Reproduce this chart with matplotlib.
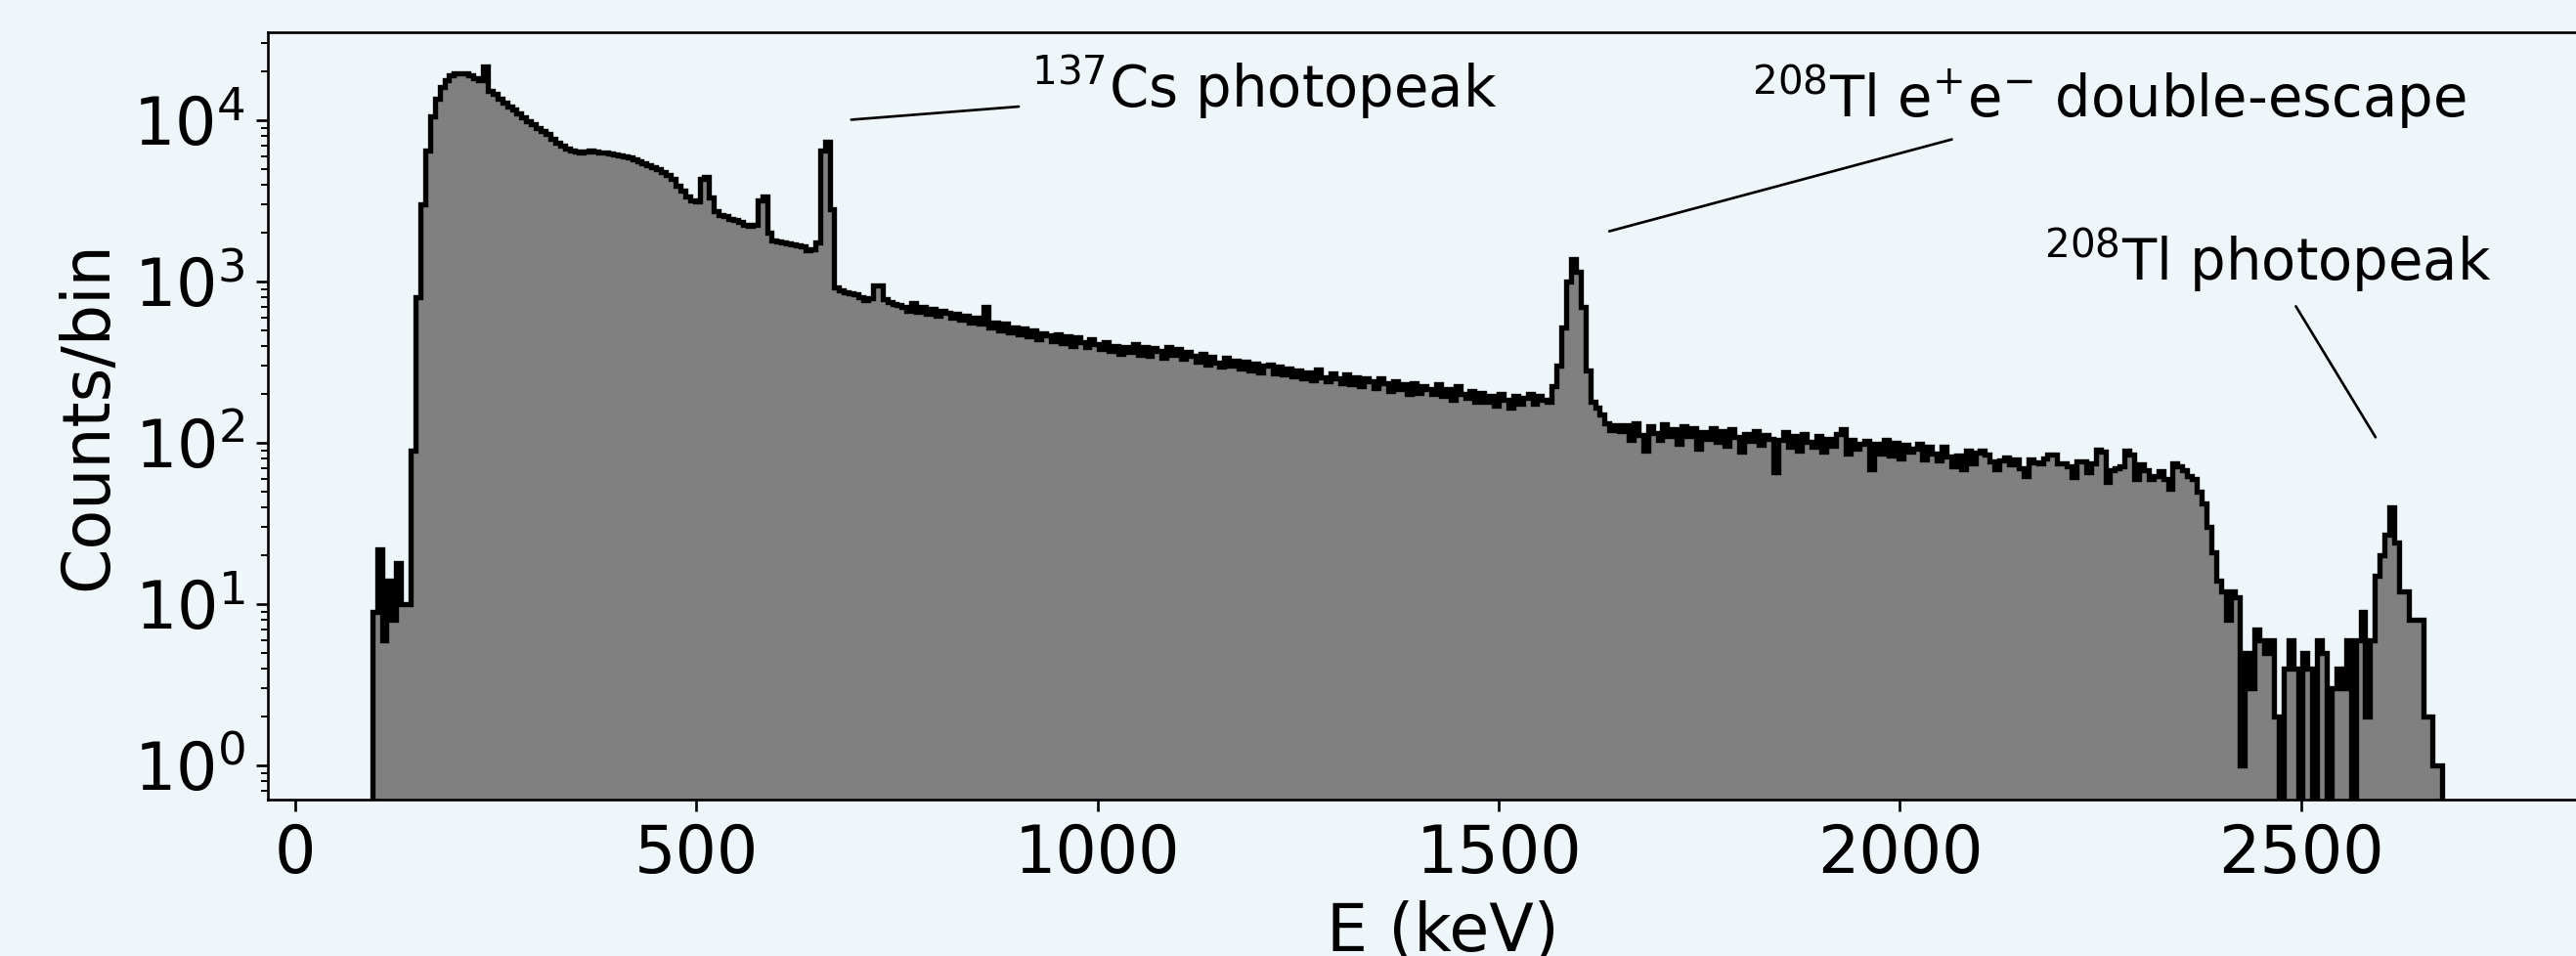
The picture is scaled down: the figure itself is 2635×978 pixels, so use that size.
import numpy as np
import matplotlib.pyplot as plt

BG = "#eef6f9"
FILL = "#808080"
DPI = 240

# spectrum: counts in 6 keV bins starting at 96 keV
E_START = 96.0
BIN_WIDTH = 6.0

# 96 - 756 keV (threshold, Compton shoulder, 511 / 583 / 662 keV lines)
counts_low = [
    9, 22, 6, 14, 8, 18, 10, 10, 90, 800,
    3000, 6500, 10500, 13500, 16000, 17800, 19000, 19500, 19600, 19500,
    19000, 18300, 17800, 21500, 15300, 14500, 13600, 12800, 12200, 11600,
    11000, 10400, 9900, 9500, 9000, 8600, 8200, 7700, 7300, 7000,
    6700, 6500, 6400, 6350, 6400, 6450, 6400, 6350, 6300, 6250,
    6150, 6050, 5950, 5850, 5700, 5550, 5400, 5250, 5100, 4950,
    4800, 4550, 4300, 3950, 3650, 3350, 3200, 3150, 4300, 4450,
    3300, 2750, 2600, 2550, 2450, 2400, 2350, 2250, 2200, 2250,
    3200, 3350, 2000, 1800, 1780, 1750, 1730, 1700, 1680, 1650,
    1560, 1580, 1750, 6500, 7400, 2800, 920, 880, 860, 850,
    830, 800, 770, 790, 940, 950, 780, 750, 730, 720,
]

# 756 - 1656 keV (continuum, double-escape peak)
counts_mid = [
    700, 660, 735, 650, 700, 630, 675, 610, 655, 640,
    600, 630, 580, 615, 560, 600, 545, 700, 520, 560,
    500, 545, 485, 520, 470, 510, 455, 495, 440, 480,
    465, 425, 470, 415, 455, 400, 450, 420, 395, 440,
    410, 380, 420, 370, 400, 355, 395, 365, 410, 350,
    390, 345, 385, 370, 335, 395, 350, 380, 330, 365,
    345, 320, 355, 305, 340, 315, 295, 335, 300, 325,
    290, 320, 280, 310, 275, 300, 305, 270, 295, 265,
    290, 260, 280, 250, 275, 245, 285, 255, 240, 270,
    250, 235, 265, 230, 255, 225, 250, 240, 220, 250,
    235, 210, 240, 215, 230, 200, 235, 205, 225, 215,
    200, 230, 195, 215, 185, 225, 200, 190, 210, 180,
    205, 180, 195, 170, 200, 185, 165, 195, 175, 190,
    200, 175, 195, 185, 180, 225, 300, 520, 1000, 1380,
    1150, 700, 280, 180, 165, 150, 132, 120, 128, 118,
]

# 1656 - 2676 keV (continuum, Compton edge, 2614 keV line)
counts_high = [
    128, 105, 132, 112, 90, 127, 115, 104, 130, 110,
    122, 98, 126, 110, 124, 92, 117, 106, 123, 101,
    118, 96, 121, 108, 88, 114, 103, 119, 97, 112,
    106, 66, 104, 116, 94, 110, 90, 113, 101, 95,
    111, 88, 106, 96, 113, 122, 86, 104, 92, 99,
    103, 69, 98, 86, 105, 84, 100, 80, 97, 88,
    92, 98, 79, 94, 86, 78, 95, 82, 72, 83,
    69, 89, 75, 87, 89, 85, 77, 69, 78, 81,
    74, 79, 70, 62, 79, 76, 75, 80, 85, 85,
    75, 75, 72, 61, 77, 77, 66, 75, 91, 88,
    57, 68, 70, 72, 89, 85, 60, 74, 68, 60,
    62, 67, 60, 52, 75, 72, 68, 62, 60, 50,
    42, 30, 21, 14, 12, 8, 12, 11, 1, 5,
    3, 7, 6, 5, 6, 2, 0, 4, 6, 4,
    0, 5, 4, 0, 6, 5, 0, 3, 4, 3,
    6, 0, 6, 9, 2, 6, 15, 20, 27, 40,
    24, 12, 12, 8, 8, 8, 2, 2, 1, 1,
]

xticks = [0, 500, 1000, 1500, 2000, 2500]

counts = np.array(counts_low + counts_mid + counts_high, dtype=float)
edges = E_START + BIN_WIDTH * np.arange(len(counts) + 1)

fig = plt.figure(figsize=(2635 / DPI, 978 / DPI), dpi=DPI, facecolor=BG)
# the original figure is cropped on the right, so the axes run past the edge
ax = fig.add_axes([274 / 2635, 160 / 978, 2404 / 2635, 785 / 978])
ax.set_facecolor(BG)

ax.stairs(counts, edges, baseline=0.01, fill=True, color=FILL, lw=0)
ax.stairs(counts, edges, baseline=0.01, color="black", lw=1.6)

ax.set_yscale("log")
ax.set_xlim(-34, 2895)
ax.set_ylim(0.614, 35100)
ax.set_xticks(xticks)
ax.tick_params(labelsize=20)
ax.set_xlabel("E (keV)", fontsize=20)
ax.set_ylabel("Counts/bin", fontsize=20)

line = dict(arrowstyle="-", color="black", lw=0.8)
ax.annotate(r"$^{137}$Cs photopeak", xy=(685, 1.0e4), xytext=(918, 1.2e4),
            ha="left", va="baseline", fontsize=17.3, arrowprops=line)
ax.annotate(r"$^{208}$Tl e$^{+}$e$^{-}$ double-escape", xy=(1630, 2000),
            xytext=(1815, 1.04e4), ha="left", va="baseline", fontsize=17.3,
            arrowprops=line)
ax.annotate(r"$^{208}$Tl photopeak", xy=(2597, 100), xytext=(2180, 1014),
            ha="left", va="baseline", fontsize=17.3, arrowprops=line)

fig.savefig("out.png", dpi=DPI, facecolor=BG)
